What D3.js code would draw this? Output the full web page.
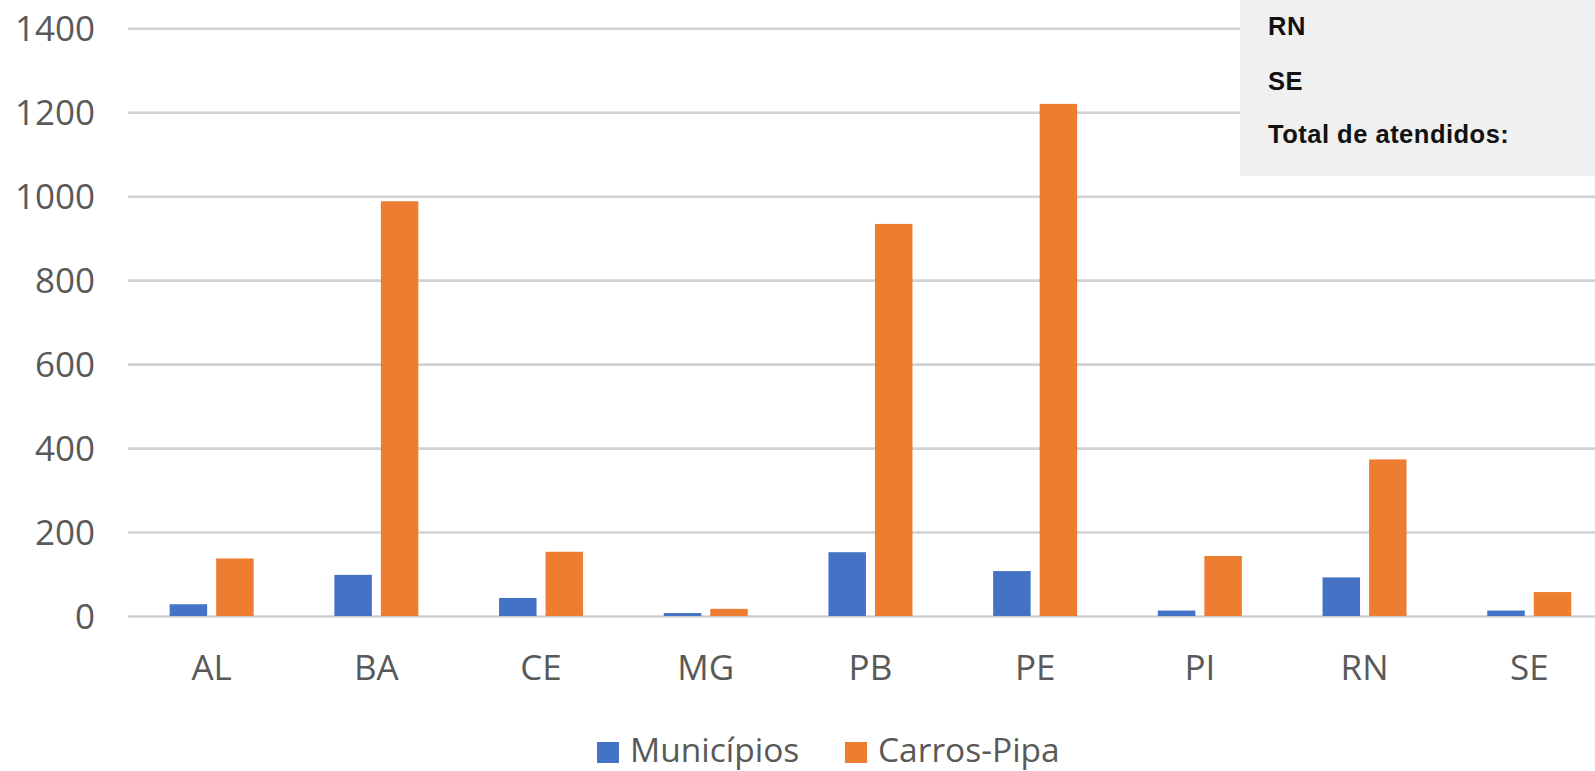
<!DOCTYPE html>
<html>
<head>
<meta charset="utf-8">
<script src="https://cdn.jsdelivr.net/npm/d3@7"></script>
<style>
  html, body { margin: 0; padding: 0; background: #fff; }
  svg { display: block; }
</style>
</head>
<body>
<svg id="chart" width="1595" height="771"></svg>
<script>
// Categories (states) and the two series
const categories = ["AL", "BA", "CE", "MG", "PB", "PE", "PI", "RN", "SE"];
const municipios = [28, 98, 43, 7, 152, 107, 13, 92, 13];
const carrosPipa = [137, 988, 153, 17, 934, 1220, 143, 373, 57];
const seriesNames = ["Municípios", "Carros-Pipa"];
const seriesColors = ["#4472C4", "#ED7D31"];
const yTicks = [0, 200, 400, 600, 800, 1000, 1200, 1400];
const boxLines = ["RN", "SE", "Total de atendidos:"];

const svg = d3.select("#chart");
const W = 1595, H = 771;

const plotLeft = 129.3, step = 164.7;
const plotRight = plotLeft + step * categories.length;
const y0 = 616, yTop = 28.3;

const x0 = d3.scaleBand()
  .domain(categories)
  .range([plotLeft, plotRight])
  .paddingInner(0.49)
  .paddingOuter(0.245);

const x1 = d3.scaleBand()
  .domain(seriesNames)
  .range([0, x0.bandwidth()])
  .paddingInner(0.194)
  .paddingOuter(0);

const y = d3.scaleLinear().domain([0, 1400]).range([y0, yTop]);

const labelFont = "'Open Sans', sans-serif";
const textGray = "#595959";

// Horizontal gridlines and value labels
const yAxis = d3.axisLeft(y)
  .tickValues(yTicks)
  .tickSize(-(plotRight - plotLeft + 2))
  .tickPadding(0)
  .tickFormat(d3.format("d"));

const gy = svg.append("g")
  .attr("transform", `translate(${plotLeft - 1.3},0)`)
  .call(yAxis);
gy.select(".domain").remove();
gy.selectAll(".tick line")
  .attr("stroke", "#d2d2d2")
  .attr("stroke-width", 2.6);
gy.selectAll(".tick text")
  .attr("x", -33)
  .attr("dy", null)
  .attr("y", 12)
  .attr("text-anchor", "end")
  .attr("fill", textGray)
  .style("font-family", labelFont)
  .style("font-size", "35px");

// Bars
const rows = categories.map((c, i) => ({ cat: c, vals: [municipios[i], carrosPipa[i]] }));

const groups = svg.append("g").selectAll("g")
  .data(rows)
  .join("g")
  .attr("transform", d => `translate(${x0(d.cat)},0)`);

groups.selectAll("rect")
  .data(d => d.vals.map((v, k) => ({ name: seriesNames[k], value: v, color: seriesColors[k] })))
  .join("rect")
  .attr("x", d => x1(d.name))
  .attr("width", x1.bandwidth())
  .attr("y", d => y(d.value))
  .attr("height", d => y0 - y(d.value))
  .attr("fill", d => d.color);

// Category labels
const xAxis = d3.axisBottom(x0).tickSize(0).tickPadding(0);
const gx = svg.append("g").attr("transform", `translate(0,${y0})`).call(xAxis);
gx.select(".domain").remove();
gx.selectAll(".tick text")
  .attr("y", 64)
  .attr("dy", null)
  .attr("fill", textGray)
  .style("font-family", labelFont)
  .style("font-size", "35px");

// Legend
const legendItems = [
  { name: seriesNames[0], color: seriesColors[0], x: 597 },
  { name: seriesNames[1], color: seriesColors[1], x: 845 }
];
const lg = svg.append("g");
legendItems.forEach(it => {
  lg.append("rect")
    .attr("x", it.x).attr("y", 742)
    .attr("width", 22).attr("height", 21)
    .attr("fill", it.color);
  lg.append("text")
    .attr("x", it.x + 33).attr("y", 762)
    .attr("fill", textGray)
    .style("font-family", labelFont)
    .style("font-size", "33.5px")
    .text(it.name);
});

// Overlapping text box at the top right
const box = svg.append("g");
box.append("rect")
  .attr("x", 1240).attr("y", -2)
  .attr("width", W - 1240 + 5).attr("height", 178)
  .attr("fill", "#f0f0f0");
const lineY = [35, 90, 143];
box.selectAll("text")
  .data(boxLines)
  .join("text")
  .attr("x", 1268)
  .attr("y", (d, i) => lineY[i])
  .attr("fill", "#111")
  .style("font-family", "'Liberation Sans', Arial, sans-serif")
  .style("font-weight", "bold")
  .style("font-size", "25.5px")
  .style("letter-spacing", "0.5px")
  .text(d => d);
</script>
</body>
</html>
